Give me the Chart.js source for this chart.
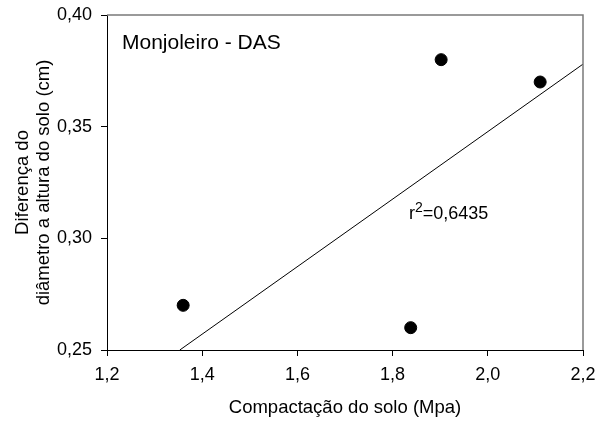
<!DOCTYPE html>
<html>
<head>
<meta charset="utf-8">
<script src="https://cdn.jsdelivr.net/npm/chart.js@4/dist/chart.umd.min.js"></script>
<style>
  html, body { margin: 0; padding: 0; background: #fff; }
  #wrap { width: 604px; height: 424px; }
</style>
</head>
<body>
<div id="wrap"><canvas id="c" width="604" height="424"></canvas></div>
<script>
// Soil compaction (MPa) vs. diameter-at-soil-height difference (cm)
const compactacao = [1.36, 1.838, 1.902, 2.11];
const diferenca = [0.27, 0.26, 0.38, 0.37];

// Fitted regression line, endpoints
const linhaX = [1.353, 2.2];
const linhaY = [0.25, 0.378];

const xTicks = [1.2, 1.4, 1.6, 1.8, 2.0, 2.2];
const yTicks = [0.25, 0.30, 0.35, 0.40];

const titulo = 'Monjoleiro - DAS';
const r2Texto = '0,6435';

const FONT = "'Liberation Sans', Arial, sans-serif";

const pontos = compactacao.map((x, i) => ({ x, y: diferenca[i] }));
const linha = linhaX.map((x, i) => ({ x, y: linhaY[i] }));

// Frame on top/right plus inner text labels
const annotations = {
  id: 'annotations',
  afterDraw(chart) {
    const { ctx, chartArea: a } = chart;
    ctx.save();
    ctx.strokeStyle = '#7a7a7a';
    ctx.lineWidth = 1.5;
    ctx.beginPath();
    ctx.moveTo(a.left, a.top);
    ctx.lineTo(a.right, a.top);
    ctx.lineTo(a.right, a.bottom);
    ctx.stroke();

    ctx.fillStyle = '#000';
    ctx.textBaseline = 'middle';
    ctx.textAlign = 'left';
    ctx.font = '21px ' + FONT;
    ctx.fillText(titulo, a.left + 15, a.top + 28);

    const rx = a.left + 302, ry = a.top + 199;
    ctx.font = '18px ' + FONT;
    ctx.fillText('r', rx, ry);
    const rw = ctx.measureText('r').width;
    ctx.font = '14px ' + FONT;
    ctx.fillText('2', rx + rw, ry - 6);
    const sw = ctx.measureText('2').width;
    ctx.font = '18px ' + FONT;
    ctx.fillText('=' + r2Texto, rx + rw + sw, ry);
    ctx.restore();
  }
};

new Chart(document.getElementById('c'), {
  type: 'scatter',
  data: {
    datasets: [
      {
        data: pontos,
        backgroundColor: '#000',
        borderColor: '#000',
        pointRadius: 6,
        pointHoverRadius: 6
      },
      {
        type: 'line',
        data: linha,
        borderColor: '#000',
        borderWidth: 1,
        pointRadius: 0,
        fill: false,
        tension: 0
      }
    ]
  },
  options: {
    responsive: false,
    animation: false,
    events: [],
    layout: { padding: { left: 0, top: 15, right: 21, bottom: 0 } },
    plugins: { legend: { display: false }, tooltip: { enabled: false } },
    scales: {
      x: {
        type: 'linear',
        min: xTicks[0],
        max: xTicks[xTicks.length - 1],
        afterFit(s) { s.height = 74; s.paddingLeft = 0; s.paddingRight = 0; },
        afterBuildTicks(s) { s.ticks = xTicks.map(v => ({ value: v })); },
        grid: { drawOnChartArea: false, color: '#000', tickLength: 6 },
        border: { color: '#000', width: 1 },
        ticks: {
          color: '#000',
          font: { family: FONT, size: 18 },
          padding: 8,
          callback: v => v.toFixed(1).replace('.', ',')
        },
        title: {
          display: true,
          text: 'Compactação do solo (Mpa)',
          color: '#000',
          font: { family: FONT, size: 18.5 },
          padding: { top: 0, bottom: 5 }
        }
      },
      y: {
        type: 'linear',
        min: yTicks[0],
        max: yTicks[yTicks.length - 1],
        afterFit(s) { s.width = 107; s.paddingTop = 0; s.paddingBottom = 0; },
        afterBuildTicks(s) { s.ticks = yTicks.map(v => ({ value: v })); },
        grid: { drawOnChartArea: false, color: '#000', tickLength: 6 },
        border: { color: '#000', width: 1 },
        ticks: {
          color: '#000',
          font: { family: FONT, size: 18 },
          padding: 9,
          callback: v => v.toFixed(2).replace('.', ',')
        },
        title: {
          display: true,
          text: ['Diferença do', 'diâmetro a altura do solo (cm)'],
          color: '#000',
          font: { family: FONT, size: 18.5, lineHeight: 1.15 },
          padding: { top: 12, bottom: 0 }
        }
      }
    }
  },
  plugins: [annotations]
});
</script>
</body>
</html>
